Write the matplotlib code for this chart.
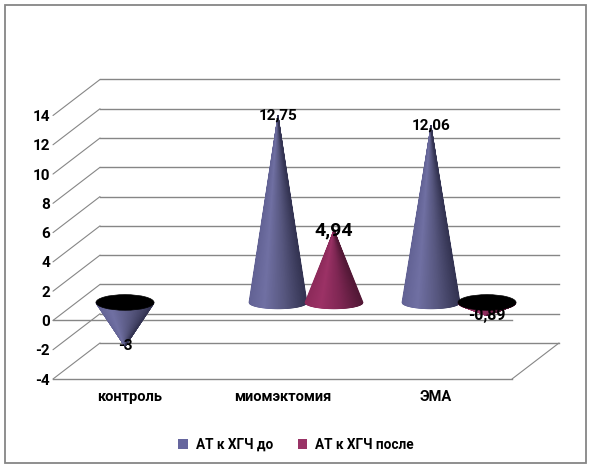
import numpy as np
import matplotlib
matplotlib.use("Agg")
import matplotlib.pyplot as plt
from matplotlib.patches import Polygon, Ellipse, Rectangle, Patch, ConnectionPatch
from matplotlib.transforms import ScaledTranslation

plt.rcParams['font.family'] = ['Roboto', 'DejaVu Sans']

categories = ["контроль", "миомэктомия", "ЭМА"]
series_names = ["АТ к ХГЧ до", "АТ к ХГЧ после"]
values_before = [-3.0, 12.75, 12.06]
values_after = [None, 4.94, -0.89]
y_ticks = [-4, -2, 0, 2, 4, 6, 8, 10, 12, 14]

DPI = 100
W, H = 593, 469
fig = plt.figure(figsize=(W / DPI, H / DPI), dpi=DPI)
fig.patch.set_facecolor('white')

# outer frame
fig.add_artist(Rectangle((5 / W, 6 / H), 581 / W, 458 / H, transform=fig.transFigure,
                         fill=False, edgecolor='#868686', linewidth=1.3))

ax_left, ax_right = 53, 512
ax_top, ax_bottom = 115.5, 379
ax = fig.add_axes([ax_left / W, (H - ax_bottom) / H, (ax_right - ax_left) / W,
                   (ax_bottom - ax_top) / H])
ax.set_xlim(-0.5, 2.5)
ax.set_ylim(-4, 14)
ax.patch.set_alpha(0)
for s in ax.spines.values():
    s.set_visible(False)

grid_c = '#868686'
depth_dx, depth_dy = 47, 36  # pixels
back = ax.transData + ScaledTranslation(depth_dx / DPI, depth_dy / DPI, fig.dpi_scale_trans)
mid = ax.transData + ScaledTranslation(depth_dx / 2 / DPI, depth_dy / 2 / DPI, fig.dpi_scale_trans)

x0, x1 = ax.get_xlim()
for v in y_ticks:
    ax.plot([x0, x1], [v, v], color=grid_c, lw=1.0, transform=back, clip_on=False, zorder=1)
    cp = ConnectionPatch(xyA=(x0, v), coordsA=ax.transData, xyB=(x0, v), coordsB=back,
                         color=grid_c, lw=0.8, zorder=1)
    fig.add_artist(cp)
ax.plot([x0, x1], [-4, -4], color=grid_c, lw=1.0, clip_on=False, zorder=1)
fig.add_artist(ConnectionPatch(xyA=(x1, -4), coordsA=ax.transData, xyB=(x1, -4), coordsB=back,
                               color=grid_c, lw=0.8, zorder=1))
ax.plot([x0, x1], [0, 0], color=grid_c, lw=1.0, clip_on=False, zorder=1)

ax.set_yticks(y_ticks)
ax.set_yticklabels([str(t) for t in y_ticks], fontsize=11, fontweight='bold')
ax.set_xticks(range(len(categories)))
ax.set_xticklabels(categories, fontsize=10.5, fontweight='bold')
ax.tick_params(axis='y', length=0, pad=2)
ax.tick_params(axis='x', length=0, pad=8)

px_x = (x1 - x0) / (ax_right - ax_left)
px_y = (14 - (-4)) / (ax_bottom - ax_top)

half_w = 29 * px_x
b_up = 6.3 * px_y
b_top = 7.8 * px_y
offset = 28 * px_x

blue_grad = [(-1.0, (98, 98, 148)), (-0.45, (112, 112, 163)), (0.3, (85, 85, 125)), (1.0, (52, 52, 82))]
red_grad = [(-1.0, (140, 42, 90)), (-0.45, (156, 50, 102)), (0.3, (125, 38, 82)), (1.0, (82, 24, 54))]


def grad_color(grad, t):
    ts = [g[0] for g in grad]
    cs = np.array([g[1] for g in grad], dtype=float)
    return tuple(np.interp(t, ts, cs[:, k]) / 255 for k in range(3))


def cone(cx, v, grad, z):
    n = 120
    ts = np.linspace(-1, 1, n + 1)
    b = b_up if v >= 0 else b_top
    xs = cx + half_w * ts
    ys = -b * np.sqrt(np.clip(1 - ts ** 2, 0, 1))
    for i in range(n):
        tm = 0.5 * (ts[i] + ts[i + 1])
        c = grad_color(grad, tm)
        poly = Polygon([(cx, v), (xs[i], ys[i]), (xs[i + 1], ys[i + 1])], closed=True,
                       facecolor=c, edgecolor=c, lw=0.6, transform=mid, zorder=z,
                       clip_on=False)
        ax.add_patch(poly)
    if v < 0:
        ax.add_patch(Ellipse((cx, 0), 2 * half_w, 2 * b, facecolor='black', edgecolor='black',
                             lw=0.5, transform=mid, zorder=z + 0.1, clip_on=False))


def fmt(v):
    s = f"{v:.2f}".rstrip('0').rstrip('.') if abs(v - round(v)) > 1e-9 else str(int(round(v)))
    return s.replace('.', ',')


for i, cat in enumerate(categories):
    vb = values_before[i]
    cone(i - offset, vb, blue_grad, 3 + i)
    ax.text(i - offset, vb, fmt(vb), transform=mid, ha='center', va='center',
            fontsize=11, fontweight='bold', zorder=10)
    va_ = values_after[i]
    if va_ is not None:
        cone(i + offset, va_, red_grad, 3.5 + i)
        big = 14 if va_ > 0 else 11.5
        ax.text(i + offset, va_, fmt(va_), transform=mid, ha='center', va='center',
                fontsize=big, fontweight='bold', zorder=10)

handles = [Patch(facecolor='#66669E', edgecolor='none'), Patch(facecolor='#993366', edgecolor='none')]
fig.legend(handles, series_names, loc='center', bbox_to_anchor=(0.4995, (H - 445) / H), ncol=2,
           frameon=False, prop={'weight': 'bold', 'size': 9.8}, handlelength=0.7, handleheight=0.7,
           handletextpad=0.6, columnspacing=1.8)

fig.savefig('out.png', dpi=DPI, facecolor='white')
